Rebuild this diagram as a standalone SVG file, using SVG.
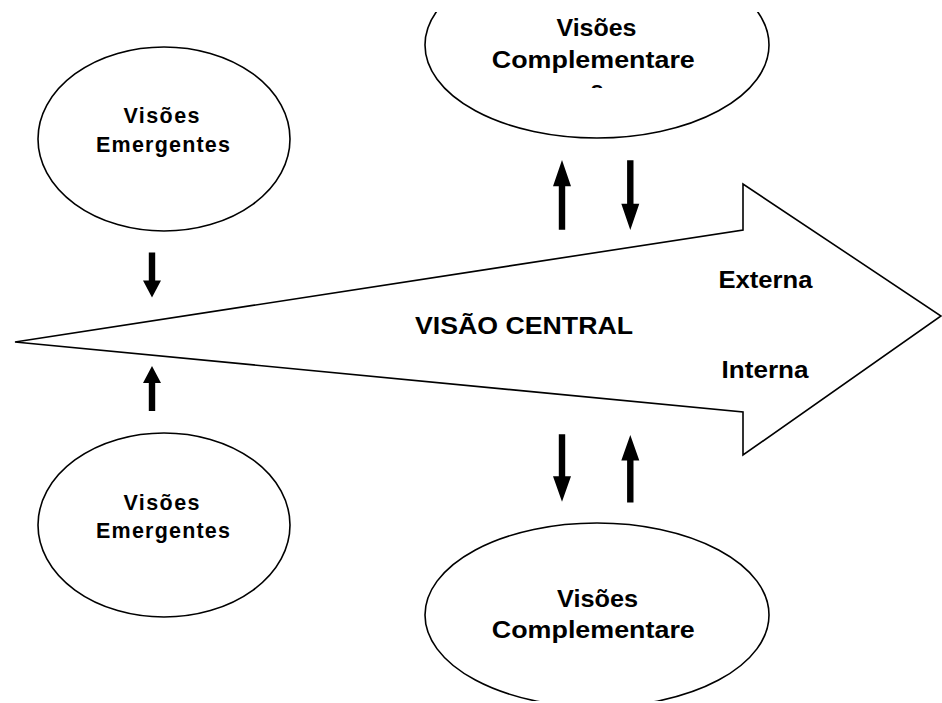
<svg xmlns="http://www.w3.org/2000/svg" width="942" height="703" viewBox="0 0 942 703">
  <style>
    .shape { fill: #fff; stroke: #000; stroke-width: 1.6; }
    .lbl { font-family: "Liberation Sans", Arial, sans-serif; font-weight: bold; fill: #000; text-anchor: middle; }
    .small { font-size: 21.5px; }
    .mid { font-size: 23.5px; }
    .big { font-size: 24px; }
    .blk { fill: #000; stroke: none; }
  </style>
  <defs>
    <clipPath id="clipTop"><rect x="0" y="12" width="942" height="691"/></clipPath>
    <clipPath id="clipBottom"><rect x="0" y="0" width="942" height="701"/></clipPath>
    <clipPath id="clipTopText"><rect x="400" y="12" width="400" height="76"/></clipPath>
    <!-- block arrow pointing down, tip at origin -->
    <path id="arrowDown" d="M -3.2 -45 L 3.2 -45 L 3.2 -17 L 9 -17 L 0 0 L -9 -17 L -3.2 -17 Z"/>
  </defs>

  <!-- central block arrow -->
  <g id="central">
    <polygon class="shape" points="15,342 743,230 743,184 941,316 743,455 743,412"/>
    <text class="lbl big" x="524" y="334" textLength="218" lengthAdjust="spacingAndGlyphs">VISÃO CENTRAL</text>
    <text class="lbl big" x="765.5" y="288" textLength="94" lengthAdjust="spacingAndGlyphs">Externa</text>
    <text class="lbl big" x="765" y="378" textLength="87" lengthAdjust="spacingAndGlyphs">Interna</text>
  </g>

  <!-- emergent views, upper -->
  <g id="emergentTop">
    <ellipse class="shape" cx="164" cy="139" rx="126" ry="92"/>
    <text class="lbl small" x="161.5" y="123" textLength="76" lengthAdjust="spacing">Visões</text>
    <text class="lbl small" x="163" y="151.5" textLength="134" lengthAdjust="spacing">Emergentes</text>
  </g>

  <!-- emergent views, lower -->
  <g id="emergentBottom">
    <ellipse class="shape" cx="164" cy="525" rx="126" ry="92"/>
    <text class="lbl small" x="161.5" y="510" textLength="76" lengthAdjust="spacing">Visões</text>
    <text class="lbl small" x="163" y="538.3" textLength="134" lengthAdjust="spacing">Emergentes</text>
  </g>

  <!-- complementary views, upper (cut by the frame) -->
  <g id="complementTop">
    <ellipse class="shape" cx="597" cy="45" rx="172" ry="93" clip-path="url(#clipTop)"/>
    <g clip-path="url(#clipTopText)">
      <text class="lbl mid" x="596.5" y="36" textLength="80" lengthAdjust="spacingAndGlyphs">Visões</text>
      <text class="lbl mid" x="593.3" y="68.3" textLength="203" lengthAdjust="spacingAndGlyphs">Complementare</text>
      <text class="lbl mid" x="597" y="98">s</text>
    </g>
  </g>

  <!-- complementary views, lower (cut by the frame) -->
  <g id="complementBottom">
    <ellipse class="shape" cx="597" cy="615" rx="172" ry="92" clip-path="url(#clipBottom)"/>
    <text class="lbl mid" x="597.5" y="606.7" textLength="81" lengthAdjust="spacingAndGlyphs">Visões</text>
    <text class="lbl mid" x="593.3" y="638" textLength="203" lengthAdjust="spacingAndGlyphs">Complementare</text>
  </g>

  <!-- connectors: solid block arrows -->
  <g id="connectors" class="blk">
    <use href="#arrowDown" transform="translate(152,297.5)"/>
    <use href="#arrowDown" transform="translate(152,366) rotate(180)"/>
    <use href="#arrowDown" transform="translate(562,160) rotate(180) scale(1,1.55)"/>
    <use href="#arrowDown" transform="translate(630.3,230) scale(1,1.55)"/>
    <use href="#arrowDown" transform="translate(562,501.7) scale(1,1.5)"/>
    <use href="#arrowDown" transform="translate(630.3,435) rotate(180) scale(1,1.5)"/>
  </g>
</svg>
